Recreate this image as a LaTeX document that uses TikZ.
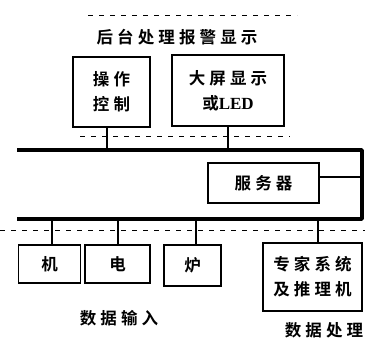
\documentclass[tikz,border=0pt]{standalone}
\usepackage{fontspec}
\newfontfamily\cjk{Noto Sans CJK SC}[BoldFont={Noto Sans CJK SC Bold},LetterSpace=25]
\newfontfamily\latinserif{Liberation Serif}
\begin{document}
\begin{tikzpicture}[x=1pt,y=-1pt,
  box/.style={draw,line width=1.8pt,inner sep=0pt,font=\cjk\bfseries\fontsize{16.5}{25}\selectfont,align=center},
  lbl/.style={inner sep=0pt,font=\cjk\bfseries\fontsize{16.5}{20}\selectfont},
  link/.style={line width=1.4pt},
  bus/.style={line width=3.6pt,line join=round},
  sep/.style={line width=0.8pt,dash pattern=on 5pt off 6pt}]
\useasboundingbox (0,0) rectangle (382,348);
% separators
\draw[sep] (88,15) coordinate (s1a) -- (297,15) coordinate (s1b);
\draw[sep] (80,136) coordinate (s2a) -- (290,136) coordinate (s2b);
\draw[sep] (0,230) coordinate (s3a) -- (365,230) coordinate (s3b);
% title
\node[lbl] (title) at (177,37) {后台处理报警显示};
% top boxes
\node[box,minimum width=77pt,minimum height=70pt] (op) at (111.5,92) {操作\\控制};
\node[box,minimum width=112pt,minimum height=71pt] (scr) at (228,90.5) {大屏显示\\或{\latinserif\bfseries\fontsize{17}{20}\selectfont LED}};
% bus
\coordinate (bTL) at (17,150);
\coordinate (bTR) at (362,150);
\coordinate (bBR) at (362,219);
\coordinate (bBL) at (17,219);
\draw[bus] (bTL) -- (bTR) -- (bBR) -- (bBL);
% server
\node[box,minimum width=111pt,minimum height=40pt] (srv) at (263.5,183) {服务器};
\draw[link] (srv.east |- 0,177) -- (bTR |- 0,177);
% top links
\draw[link] (op.south -| 107,0) -- (107,150);
\draw[link] (scr.south) -- (228,150);
% bottom boxes
\node[box,minimum width=62pt,minimum height=38pt] (ji) at (49.5,264) {机};
\node[box,minimum width=65pt,minimum height=38pt] (dian) at (117.5,264) {电};
\node[box,minimum width=57pt,minimum height=41pt] (lu) at (192.5,265.5) {炉};
\node[box,minimum width=99pt,minimum height=68pt] (exp) at (312.5,277) {专家系统\\及推理机};
\draw[link] (52,219) -- (ji.north -| 52,0);
\draw[link] (118,219) -- (dian.north -| 118,0);
\draw[link] (196,219) -- (lu.north -| 196,0);
\draw[link] (318,219) -- (exp.north -| 318,0);
% labels
\node[lbl] (in) at (119,318) {数据输入};
\node[lbl] (proc) at (324,330) {数据处理};
\end{tikzpicture}
\end{document}
